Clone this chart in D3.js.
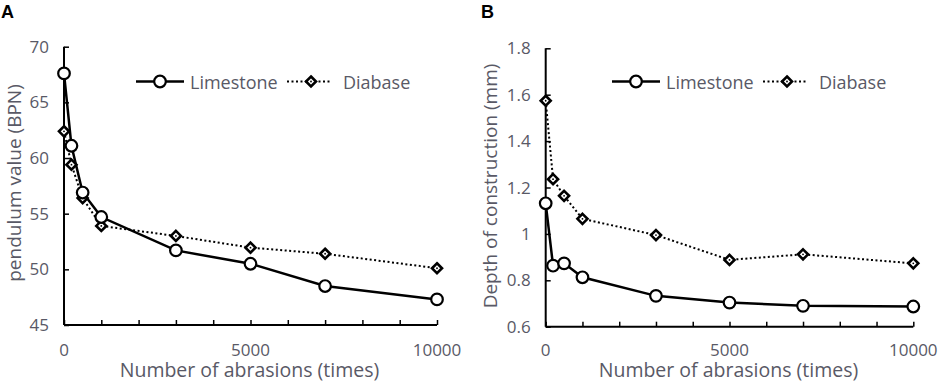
<!DOCTYPE html>
<html>
<head>
<meta charset="utf-8">
<script src="https://cdn.jsdelivr.net/npm/d3@7"></script>
<style>
body { margin: 0; background: #fff; }
text { font-family: "Open Sans", "Noto Sans", sans-serif; }
</style>
</head>
<body>
<script>

var width = 941,
	height = 383;

// abrasion counts (x)
var abrasions = [0, 200, 500, 1000, 3000, 5000, 7000, 10000];

// panel A - pendulum value (BPN)
var bpnLimestone = [67.6, 61.1, 56.9, 54.7, 51.7, 50.5, 48.5, 47.3];
var bpnDiabase = [62.4, 59.4, 56.4, 53.9, 53.0, 51.95, 51.4, 50.1];
var bpnTicks = [45, 50, 55, 60, 65, 70];

// panel B - depth of construction (mm)
var depthLimestone = [1.132, 0.863, 0.873, 0.813, 0.733, 0.704, 0.69, 0.687];
var depthDiabase = [1.574, 1.236, 1.164, 1.065, 0.995, 0.888, 0.912, 0.873];
var depthTicks = [0.6, 0.8, 1.0, 1.2, 1.4, 1.6, 1.8];

var xTickLabels = [0, 5000, 10000];
var xMinorTicks = d3.range(0, 10001, 1000);

var svg = d3.select('body').append('svg')
			.attr('width', width)
			.attr('height', height);

var labelColor = '#595966';

function panel(opt){

	var x = d3.scaleLinear().domain([0, 10000]).range([opt.x0, opt.x1]);
	var y = d3.scaleLinear().domain(opt.yDomain).range([opt.yBottom, opt.yTop]);

	var g = svg.append('g');

	// panel letter
	g.append('text')
		.attr('x', opt.letterX).attr('y', 18)
		.style('font-family', 'Liberation Sans, Arial, sans-serif')
		.style('font-weight', 'bold').style('font-size', '18px')
		.text(opt.letter);

	// x axis, ticks point inward
	var xAxis = d3.axisBottom(x).tickValues(xMinorTicks).tickSize(-5).tickFormat('');
	var gx = g.append('g').attr('transform', 'translate(0,' + opt.yBottom + ')').call(xAxis);
	gx.select('.domain').attr('stroke-width', 2).attr('d', 'M' + opt.x0 + ',0H' + opt.x1);
	gx.selectAll('.tick line').attr('stroke-width', 1.5);

	g.selectAll('.xlab').data(xTickLabels).enter().append('text')
		.attr('x', function(d){ return x(d); })
		.attr('y', 356)
		.attr('text-anchor', 'middle')
		.style('font-size', '17px').attr('fill', labelColor)
		.text(function(d){ return d; });

	// y axis
	var yAxis = d3.axisLeft(y).tickValues(opt.yTicks).tickSize(-5).tickFormat('');
	var gy = g.append('g').attr('transform', 'translate(' + opt.x0 + ',0)').call(yAxis);
	gy.select('.domain').attr('stroke-width', 2).attr('d', 'M0,' + opt.yTop + 'V' + opt.yBottom);
	gy.selectAll('.tick line').attr('stroke-width', 1.5);

	g.selectAll('.ylab').data(opt.yTicks).enter().append('text')
		.attr('x', opt.x0 - 15)
		.attr('y', function(d){ return y(d) + 6; })
		.attr('text-anchor', 'end')
		.style('font-size', '17px').attr('fill', labelColor)
		.text(opt.yFormat);

	// axis titles
	g.append('text')
		.attr('x', (opt.x0 + opt.x1) / 2 - 1).attr('y', 377)
		.attr('text-anchor', 'middle')
		.style('font-size', '19.5px').attr('fill', labelColor)
		.text('Number of abrasions (times)');

	g.append('text')
		.attr('transform', 'translate(' + opt.yTitleX + ',' + opt.yTitleY + ') rotate(-90)')
		.attr('text-anchor', 'middle')
		.style('font-size', '19px').attr('fill', labelColor)
		.text(opt.yTitle);

	var line = d3.line()
		.x(function(d){ return x(d[0]); })
		.y(function(d){ return y(d[1]); });

	var lime = d3.zip(abrasions, opt.limestone);
	var diab = d3.zip(abrasions, opt.diabase);

	g.append('path').datum(diab)
		.attr('d', line).attr('fill', 'none')
		.attr('stroke', '#000').attr('stroke-width', 2)
		.attr('stroke-dasharray', '2,2.5');

	g.append('path').datum(lime)
		.attr('d', line).attr('fill', 'none')
		.attr('stroke', '#000').attr('stroke-width', 2.5);

	var diamond = d3.symbol().type(d3.symbolDiamond2).size(64);

	function diamondMark(sel){
		sel.append('path').attr('d', diamond)
			.attr('fill', '#fff').attr('stroke', '#000').attr('stroke-width', 2.6);
		sel.append('circle').attr('r', 0.9).attr('fill', '#000');
	}

	g.selectAll('.dia').data(diab).enter().append('g')
		.attr('transform', function(d){ return 'translate(' + x(d[0]) + ',' + y(d[1]) + ')'; })
		.call(diamondMark);

	g.selectAll('.circ').data(lime).enter().append('circle')
		.attr('cx', function(d){ return x(d[0]); })
		.attr('cy', function(d){ return y(d[1]); })
		.attr('r', 5.8)
		.attr('fill', '#fff').attr('stroke', '#000').attr('stroke-width', 2.2);

	// legend
	var ly = 81.5, lx = opt.legendX;
	g.append('line').attr('x1', lx).attr('x2', lx + 48).attr('y1', ly).attr('y2', ly)
		.attr('stroke', '#000').attr('stroke-width', 2.5);
	g.append('circle').attr('cx', lx + 24).attr('cy', ly).attr('r', 5.8)
		.attr('fill', '#fff').attr('stroke', '#000').attr('stroke-width', 2.2);
	g.append('text').attr('x', lx + 54).attr('y', ly + 7)
		.style('font-size', '18px').attr('fill', labelColor).text('Limestone');

	g.append('line').attr('x1', lx + 151).attr('x2', lx + 195).attr('y1', ly).attr('y2', ly)
		.attr('stroke', '#000').attr('stroke-width', 2).attr('stroke-dasharray', '2,2.5');
	g.append('g').attr('transform', 'translate(' + (lx + 175) + ',' + ly + ')')
		.call(diamondMark);
	g.append('text').attr('x', lx + 207).attr('y', ly + 7)
		.style('font-size', '18px').attr('fill', labelColor).text('Diabase');
}

panel({
	letter: 'A', letterX: 1,
	x0: 64, x1: 437, yTop: 46.7, yBottom: 325,
	yDomain: [45, 70], yTicks: bpnTicks,
	yFormat: function(d){ return d; },
	yTitle: 'pendulum value (BPN)', yTitleX: 21, yTitleY: 183,
	limestone: bpnLimestone, diabase: bpnDiabase,
	legendX: 136
});

panel({
	letter: 'B', letterX: 481,
	x0: 545.7, x1: 913.3, yTop: 48.3, yBottom: 326.7,
	yDomain: [0.6, 1.8], yTicks: depthTicks,
	yFormat: function(d){ return d === 1 ? '1' : d3.format('.1f')(d); },
	yTitle: 'Depth of construction (mm)', yTitleX: 497, yTitleY: 186,
	limestone: depthLimestone, diabase: depthDiabase,
	legendX: 612
});

</script>
</body>
</html>
